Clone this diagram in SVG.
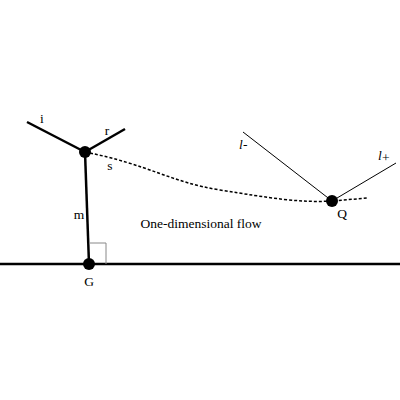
<svg xmlns="http://www.w3.org/2000/svg" width="400" height="400" viewBox="0 0 400 400">
<style>
.t{font-family:"Liberation Serif",serif;font-size:13.5px;fill:#000}
.thick{stroke:#000;stroke-width:2.5;fill:none}
.thin{stroke:#000;stroke-width:1;fill:none}
</style>
<rect width="400" height="400" fill="#fff"/>
<g id="connectors">
<line class="thick" x1="0" y1="264" x2="400" y2="264"/>
<line class="thick" x1="27" y1="122" x2="85" y2="152"/>
<line class="thick" x1="85" y1="152" x2="125" y2="129"/>
<line class="thick" x1="85" y1="152" x2="89" y2="264"/>
<polyline points="89,243 106,243 106,264" fill="none" stroke="#888" stroke-width="1"/>
<line class="thin" x1="243" y1="132" x2="332" y2="201"/>
<line class="thin" x1="332" y1="201" x2="396" y2="163"/>
<path d="M85,152 C150,165 170,182 220,190 S300,203 332,201 L368,198" fill="none" stroke="#000" stroke-width="1.5" stroke-dasharray="3,2"/>
</g>
<g id="node-top"><circle cx="85" cy="152" r="6"/></g>
<g id="node-G"><circle cx="89" cy="264" r="6"/></g>
<g id="node-Q"><circle cx="332" cy="201" r="6"/></g>
<g id="labels">
<text class="t" x="42" y="123" text-anchor="middle">i</text>
<text class="t" x="107" y="135" text-anchor="middle">r</text>
<text class="t" x="110" y="170" text-anchor="middle">s</text>
<text class="t" x="79" y="219" text-anchor="middle">m</text>
<text class="t" x="201" y="228" text-anchor="middle">One-dimensional flow</text>
<text class="t" x="89" y="286" text-anchor="middle">G</text>
<text class="t" x="342" y="218" text-anchor="middle">Q</text>
<text class="t" x="239" y="149" font-style="italic">l</text><text class="t" x="243" y="149">-</text>
<text class="t" x="378" y="160" font-style="italic">l</text><text class="t" x="382" y="162" font-size="9">+</text>
</g>
</svg>
